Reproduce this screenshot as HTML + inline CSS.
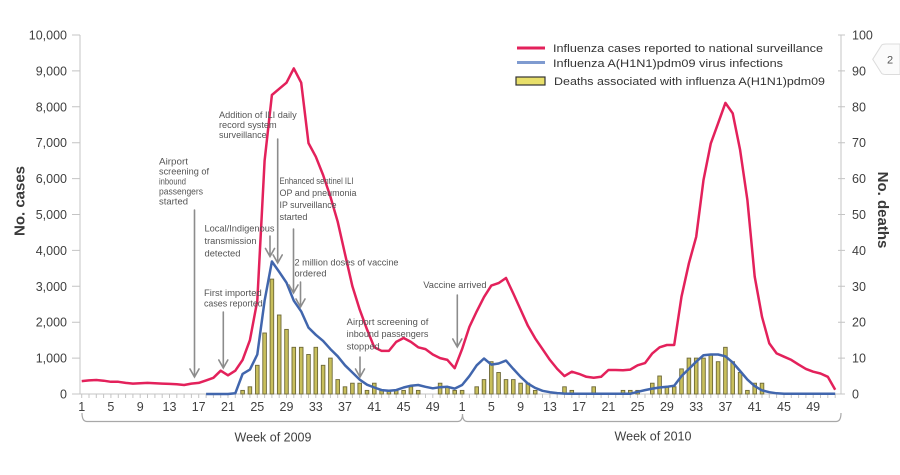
<!DOCTYPE html>
<html><head><meta charset="utf-8"><style>
html,body{margin:0;padding:0;background:#fff;}
svg{display:block;font-family:"Liberation Sans",Arial,sans-serif;}
</style></head><body>
<svg width="900" height="475" viewBox="0 0 900 475" xmlns="http://www.w3.org/2000/svg">
<rect width="900" height="475" fill="#fff"/>
<!-- badge -->
<path d="M872.7,59.3 L881.7,45 Q883,44 886,44 L900,44 L900,74.5 L886,74.5 Q883,74.5 881.7,73.5 Z" fill="#fbfbfb" stroke="#dcdcdc" stroke-width="1"/>
<text x="890" y="63.5" font-size="11" fill="#555" text-anchor="middle">2</text>

<!-- axes -->
<g stroke="#c4c4c4" stroke-width="1" fill="none">
<line x1="80" y1="35" x2="80" y2="394"/>
<line x1="841" y1="35" x2="841" y2="394"/>
<line x1="80" y1="394" x2="841" y2="394"/>
<path d="M72,35H80M72,70.9H80M72,106.8H80M72,142.7H80M72,178.6H80M72,214.5H80M72,250.4H80M72,286.3H80M72,322.2H80M72,358.1H80M72,394H80"/>
<path d="M838,35H845M838,70.9H845M838,106.8H845M838,142.7H845M838,178.6H845M838,214.5H845M838,250.4H845M838,286.3H845M838,322.2H845M838,358.1H845M838,394H845"/>
<path d="M81.7,394v4M89.0,394v4M96.3,394v4M103.6,394v4M110.9,394v4M118.3,394v4M125.6,394v4M132.9,394v4M140.2,394v4M147.5,394v4M154.9,394v4M162.2,394v4M169.5,394v4M176.8,394v4M184.1,394v4M191.4,394v4M198.7,394v4M206.1,394v4M213.4,394v4M220.7,394v4M228.0,394v4M235.3,394v4M242.6,394v4M249.9,394v4M257.3,394v4M264.6,394v4M271.9,394v4M279.2,394v4M286.5,394v4M293.8,394v4M301.2,394v4M308.5,394v4M315.8,394v4M323.1,394v4M330.4,394v4M337.7,394v4M345.0,394v4M352.4,394v4M359.7,394v4M367.0,394v4M374.3,394v4M381.6,394v4M388.9,394v4M396.2,394v4M403.6,394v4M410.9,394v4M418.2,394v4M425.5,394v4M432.8,394v4M440.1,394v4M447.4,394v4M454.7,394v4M462.1,394v4M469.4,394v4M476.7,394v4M484.0,394v4M491.3,394v4M498.6,394v4M506.0,394v4M513.3,394v4M520.6,394v4M527.9,394v4M535.2,394v4M542.5,394v4M549.9,394v4M557.2,394v4M564.5,394v4M571.8,394v4M579.1,394v4M586.4,394v4M593.7,394v4M601.1,394v4M608.4,394v4M615.7,394v4M623.0,394v4M630.3,394v4M637.6,394v4M645.0,394v4M652.3,394v4M659.6,394v4M666.9,394v4M674.2,394v4M681.5,394v4M688.9,394v4M696.2,394v4M703.5,394v4M710.8,394v4M718.1,394v4M725.4,394v4M732.7,394v4M740.1,394v4M747.4,394v4M754.7,394v4M762.0,394v4M769.3,394v4M776.6,394v4M784.0,394v4M791.3,394v4M798.6,394v4M805.9,394v4M813.2,394v4M820.5,394v4M827.8,394v4M835.2,394v4"/>
</g>

<!-- left tick labels -->
<g font-size="12.5" fill="#404040" text-anchor="end">
<text x="67" y="39.5">10,000</text>
<text x="67" y="75.4">9,000</text>
<text x="67" y="111.3">8,000</text>
<text x="67" y="147.2">7,000</text>
<text x="67" y="183.1">6,000</text>
<text x="67" y="219">5,000</text>
<text x="67" y="254.9">4,000</text>
<text x="67" y="290.8">3,000</text>
<text x="67" y="326.7">2,000</text>
<text x="67" y="362.6">1,000</text>
<text x="67" y="398.5">0</text>
</g>
<!-- right tick labels -->
<g font-size="12.5" fill="#404040" text-anchor="start">
<text x="852" y="39.5">100</text>
<text x="852" y="75.4">90</text>
<text x="852" y="111.3">80</text>
<text x="852" y="147.2">70</text>
<text x="852" y="183.1">60</text>
<text x="852" y="219">50</text>
<text x="852" y="254.9">40</text>
<text x="852" y="290.8">30</text>
<text x="852" y="326.7">20</text>
<text x="852" y="362.6">10</text>
<text x="852" y="398.5">0</text>
</g>
<!-- x tick labels -->
<g font-size="12.5" fill="#404040" text-anchor="middle">
<text x="81.7" y="411">1</text>
<text x="110.9" y="411">5</text>
<text x="140.2" y="411">9</text>
<text x="169.5" y="411">13</text>
<text x="198.7" y="411">17</text>
<text x="228.0" y="411">21</text>
<text x="257.3" y="411">25</text>
<text x="286.5" y="411">29</text>
<text x="315.8" y="411">33</text>
<text x="345.0" y="411">37</text>
<text x="374.3" y="411">41</text>
<text x="403.6" y="411">45</text>
<text x="432.8" y="411">49</text>
<text x="462.1" y="411">1</text>
<text x="491.3" y="411">5</text>
<text x="520.6" y="411">9</text>
<text x="549.9" y="411">13</text>
<text x="579.1" y="411">17</text>
<text x="608.4" y="411">21</text>
<text x="637.6" y="411">25</text>
<text x="666.9" y="411">29</text>
<text x="696.2" y="411">33</text>
<text x="725.4" y="411">37</text>
<text x="754.7" y="411">41</text>
<text x="784.0" y="411">45</text>
<text x="813.2" y="411">49</text>
</g>

<!-- brackets -->
<g stroke="#a8a8a8" stroke-width="1.2" fill="none">
<path d="M82,413 Q82,421.5 87,421.5 L457.5,421.5 Q462.5,421.5 462.5,414"/>
<path d="M462.5,414 Q462.5,421.5 467.5,421.5 L836,421.5 Q841,421.5 841,413"/>
</g>
<text x="273" y="441.5" font-size="12.5" fill="#404040" text-anchor="middle">Week of 2009</text>
<text x="653" y="440.5" font-size="12.5" fill="#404040" text-anchor="middle">Week of 2010</text>

<!-- axis titles -->
<text transform="translate(24.5,201) rotate(-90)" font-size="15" font-weight="bold" fill="#3a3a3a" text-anchor="middle">No. cases</text>
<text transform="translate(878,210) rotate(90)" font-size="15" font-weight="bold" fill="#3a3a3a" text-anchor="middle">No. deaths</text>

<!-- bars -->
<g fill="#c8bf5c" stroke="#6d6838" stroke-width="0.9">
<rect x="240.8" y="390.4" width="3.6" height="3.6"/>
<rect x="248.1" y="386.8" width="3.6" height="7.2"/>
<rect x="255.5" y="365.3" width="3.6" height="28.7"/>
<rect x="262.8" y="333.0" width="3.6" height="61.0"/>
<rect x="270.1" y="279.1" width="3.6" height="114.9"/>
<rect x="277.4" y="315.0" width="3.6" height="79.0"/>
<rect x="284.7" y="329.4" width="3.6" height="64.6"/>
<rect x="292.0" y="347.3" width="3.6" height="46.7"/>
<rect x="299.4" y="347.3" width="3.6" height="46.7"/>
<rect x="306.7" y="354.5" width="3.6" height="39.5"/>
<rect x="314.0" y="347.3" width="3.6" height="46.7"/>
<rect x="321.3" y="365.3" width="3.6" height="28.7"/>
<rect x="328.6" y="358.1" width="3.6" height="35.9"/>
<rect x="335.9" y="379.6" width="3.6" height="14.4"/>
<rect x="343.2" y="386.8" width="3.6" height="7.2"/>
<rect x="350.6" y="383.2" width="3.6" height="10.8"/>
<rect x="357.9" y="383.2" width="3.6" height="10.8"/>
<rect x="365.2" y="390.4" width="3.6" height="3.6"/>
<rect x="372.5" y="383.2" width="3.6" height="10.8"/>
<rect x="379.8" y="390.4" width="3.6" height="3.6"/>
<rect x="387.1" y="390.4" width="3.6" height="3.6"/>
<rect x="394.4" y="390.4" width="3.6" height="3.6"/>
<rect x="401.8" y="390.4" width="3.6" height="3.6"/>
<rect x="409.1" y="386.8" width="3.6" height="7.2"/>
<rect x="416.4" y="390.4" width="3.6" height="3.6"/>
<rect x="438.3" y="383.2" width="3.6" height="10.8"/>
<rect x="445.6" y="386.8" width="3.6" height="7.2"/>
<rect x="452.9" y="390.4" width="3.6" height="3.6"/>
<rect x="460.3" y="390.4" width="3.6" height="3.6"/>
<rect x="474.9" y="386.8" width="3.6" height="7.2"/>
<rect x="482.2" y="379.6" width="3.6" height="14.4"/>
<rect x="489.5" y="361.7" width="3.6" height="32.3"/>
<rect x="496.8" y="372.5" width="3.6" height="21.5"/>
<rect x="504.2" y="379.6" width="3.6" height="14.4"/>
<rect x="511.5" y="379.6" width="3.6" height="14.4"/>
<rect x="518.8" y="383.2" width="3.6" height="10.8"/>
<rect x="526.1" y="383.2" width="3.6" height="10.8"/>
<rect x="533.4" y="390.4" width="3.6" height="3.6"/>
<rect x="562.7" y="386.8" width="3.6" height="7.2"/>
<rect x="570.0" y="390.4" width="3.6" height="3.6"/>
<rect x="591.9" y="386.8" width="3.6" height="7.2"/>
<rect x="621.2" y="390.4" width="3.6" height="3.6"/>
<rect x="628.5" y="390.4" width="3.6" height="3.6"/>
<rect x="635.8" y="390.4" width="3.6" height="3.6"/>
<rect x="650.5" y="383.2" width="3.6" height="10.8"/>
<rect x="657.8" y="376.0" width="3.6" height="18.0"/>
<rect x="665.1" y="386.8" width="3.6" height="7.2"/>
<rect x="672.4" y="386.8" width="3.6" height="7.2"/>
<rect x="679.7" y="368.9" width="3.6" height="25.1"/>
<rect x="687.1" y="358.1" width="3.6" height="35.9"/>
<rect x="694.4" y="358.1" width="3.6" height="35.9"/>
<rect x="701.7" y="358.1" width="3.6" height="35.9"/>
<rect x="709.0" y="354.5" width="3.6" height="39.5"/>
<rect x="716.3" y="361.7" width="3.6" height="32.3"/>
<rect x="723.6" y="347.3" width="3.6" height="46.7"/>
<rect x="730.9" y="361.7" width="3.6" height="32.3"/>
<rect x="738.3" y="372.5" width="3.6" height="21.5"/>
<rect x="745.6" y="390.4" width="3.6" height="3.6"/>
<rect x="752.9" y="383.2" width="3.6" height="10.8"/>
<rect x="760.2" y="383.2" width="3.6" height="10.8"/>
</g>

<!-- blue line -->
<polyline fill="none" stroke="#4166ad" stroke-width="2.5" stroke-linejoin="round" points="206.1,394 213.4,394 220.7,394 228.0,394 235.3,393.3 242.6,373.9 249.9,369.6 257.3,354.5 264.6,300.7 271.9,261.5 279.2,271.9 286.5,282.7 293.8,300.7 301.2,311.4 308.5,327.6 315.8,334.8 323.1,340.9 330.4,349.1 337.7,356.3 345.0,365.3 352.4,372.5 359.7,379.6 367.0,384.7 374.3,387.5 381.6,390.1 388.9,390.8 396.2,390.1 403.6,387.5 410.9,385.7 418.2,385.0 425.5,386.8 432.8,388.3 440.1,387.2 447.4,386.8 454.7,388.6 462.1,385.0 469.4,376.1 476.7,365.3 484.0,358.5 491.3,364.6 498.6,363.5 506.0,360.6 513.3,368.9 520.6,376.8 527.9,383.6 535.2,387.9 542.5,390.8 549.9,392.2 557.2,393.1 564.5,393.6 571.8,393.8 630.3,393.8 637.6,391.8 645.0,390.1 652.3,388.6 659.6,387.5 666.9,386.8 674.2,385.7 681.5,376.1 688.9,368.9 696.2,361.7 703.5,355.2 710.8,354.5 718.1,354.5 725.4,356.3 732.7,362.4 740.1,371.0 747.4,379.6 754.7,386.1 762.0,390.4 769.3,392.2 776.6,393.3 784.0,393.8 835.2,393.8"/>

<!-- red line -->
<polyline fill="none" stroke="#e3215b" stroke-width="2.5" stroke-linejoin="round" points="81.7,381.1 89.0,380.4 96.3,380.0 103.6,380.7 110.9,381.8 118.3,381.8 125.6,382.9 132.9,383.6 140.2,383.2 147.5,382.9 154.9,383.2 162.2,383.6 169.5,383.9 176.8,384.3 184.1,385.0 191.4,383.6 198.7,382.9 206.1,380.4 213.4,377.8 220.7,370.7 228.0,375.3 235.3,370.7 242.6,359.9 249.9,340.2 257.3,300.7 264.6,160.7 271.9,95.0 279.2,88.8 286.5,82.7 293.8,68.4 301.2,82.7 308.5,143.1 315.8,156.7 323.1,175.0 330.4,196.6 337.7,221.7 345.0,254.0 352.4,286.3 359.7,309.6 367.0,329.4 374.3,347.3 381.6,350.9 388.9,350.9 396.2,341.9 403.6,338.0 410.9,341.9 418.2,347.3 425.5,349.1 432.8,354.5 440.1,358.1 447.4,359.9 454.7,368.2 462.1,349.1 469.4,326.9 476.7,311.4 484.0,297.1 491.3,285.6 498.6,283.1 506.0,278.0 513.3,293.5 520.6,309.6 527.9,325.8 535.2,338.4 542.5,349.1 549.9,359.9 557.2,368.9 564.5,376.1 571.8,371.7 579.1,373.9 586.4,376.8 593.7,377.8 601.1,376.8 608.4,370.0 615.7,370.0 623.0,370.3 630.3,369.6 637.6,365.3 645.0,363.1 652.3,353.4 659.6,347.3 666.9,345.0 674.2,345.0 681.5,296.7 688.9,263.3 696.2,236.8 703.5,180.0 710.8,143.4 718.1,123.3 725.4,102.9 732.7,113.3 740.1,149.9 747.4,200.1 754.7,276.6 762.0,316.8 769.3,343.4 776.6,353.4 784.0,356.7 791.3,359.9 798.6,364.6 805.9,368.9 813.2,371.7 820.5,373.5 827.8,376.8 835.2,389.7"/>

<!-- annotation arrows -->
<g stroke="#8c8c8c" stroke-width="1.6" fill="none" stroke-linecap="round">
<path d="M194.5,210V377M190,369L194.5,377L199,369"/>
<path d="M223.3,312V368M218.8,360L223.3,368L227.8,360"/>
<path d="M270,236V256.5M265.5,248.5L270,256.5L274.5,248.5"/>
<path d="M277.7,139V263M273.2,255L277.7,263L282.2,255"/>
<path d="M293.5,229V293M289,285L293.5,293L298,285"/>
<path d="M300.5,282V307M296,299L300.5,307L305,299"/>
<path d="M360,357V377M355.5,369L360,377L364.5,369"/>
<path d="M457.3,295V347M452.8,339L457.3,347L461.8,339"/>
</g>

<!-- annotation texts -->
<g font-size="9" fill="#555">
<text x="159" y="164.5" textLength="29" lengthAdjust="spacingAndGlyphs">Airport</text>
<text x="159" y="174.5" textLength="50" lengthAdjust="spacingAndGlyphs">screening of</text>
<text x="159" y="184.5" textLength="27" lengthAdjust="spacingAndGlyphs">inbound</text>
<text x="159" y="194.5" textLength="44" lengthAdjust="spacingAndGlyphs">passengers</text>
<text x="159" y="204.5" textLength="29" lengthAdjust="spacingAndGlyphs">started</text>

<text x="219" y="118" textLength="77.7" lengthAdjust="spacingAndGlyphs">Addition of ILI daily</text>
<text x="219" y="128" textLength="57.7" lengthAdjust="spacingAndGlyphs">record system</text>
<text x="219" y="138" textLength="47.7" lengthAdjust="spacingAndGlyphs">surveillance</text>

<text x="279.5" y="184" textLength="74" lengthAdjust="spacingAndGlyphs">Enhanced sentinel ILI</text>
<text x="279.5" y="196" textLength="77" lengthAdjust="spacingAndGlyphs">OP and pneumonia</text>
<text x="279.5" y="208" textLength="57" lengthAdjust="spacingAndGlyphs">IP surveillance</text>
<text x="279.5" y="220" textLength="28" lengthAdjust="spacingAndGlyphs">started</text>

<text x="204.5" y="231.5" textLength="70" lengthAdjust="spacingAndGlyphs">Local/Indigenous</text>
<text x="204.5" y="244" textLength="52" lengthAdjust="spacingAndGlyphs">transmission</text>
<text x="204.5" y="256.5" textLength="36" lengthAdjust="spacingAndGlyphs">detected</text>

<text x="294.5" y="265.5" textLength="104" lengthAdjust="spacingAndGlyphs">2 million doses of vaccine</text>
<text x="294.5" y="276.5" textLength="32" lengthAdjust="spacingAndGlyphs">ordered</text>

<text x="204" y="296" textLength="57.7" lengthAdjust="spacingAndGlyphs">First imported</text>
<text x="204" y="306.5" textLength="58.7" lengthAdjust="spacingAndGlyphs">cases reported</text>

<text x="346.7" y="325" textLength="81.7" lengthAdjust="spacingAndGlyphs">Airport screening of</text>
<text x="346.7" y="337" textLength="81.7" lengthAdjust="spacingAndGlyphs">inbound passengers</text>
<text x="346.7" y="349.5" textLength="33" lengthAdjust="spacingAndGlyphs">stopped</text>

<text x="423.3" y="288" textLength="63.3" lengthAdjust="spacingAndGlyphs">Vaccine  arrived</text>
</g>

<!-- legend -->
<line x1="517" y1="48" x2="545" y2="48" stroke="#e3215b" stroke-width="3"/>
<line x1="517" y1="62.5" x2="545" y2="62.5" stroke="#7f9bd0" stroke-width="3"/>
<rect x="516" y="77" width="29" height="8" fill="#e8df6a" stroke="#333" stroke-width="1.2"/>
<g font-size="11" fill="#333">
<text x="553" y="52" textLength="270" lengthAdjust="spacingAndGlyphs">Influenza cases reported to national surveillance</text>
<text x="553" y="67" textLength="230" lengthAdjust="spacingAndGlyphs">Influenza A(H1N1)pdm09 virus infections</text>
<text x="554" y="85" textLength="271" lengthAdjust="spacingAndGlyphs">Deaths associated with influenza A(H1N1)pdm09</text>
</g>
</svg>
</body></html>
